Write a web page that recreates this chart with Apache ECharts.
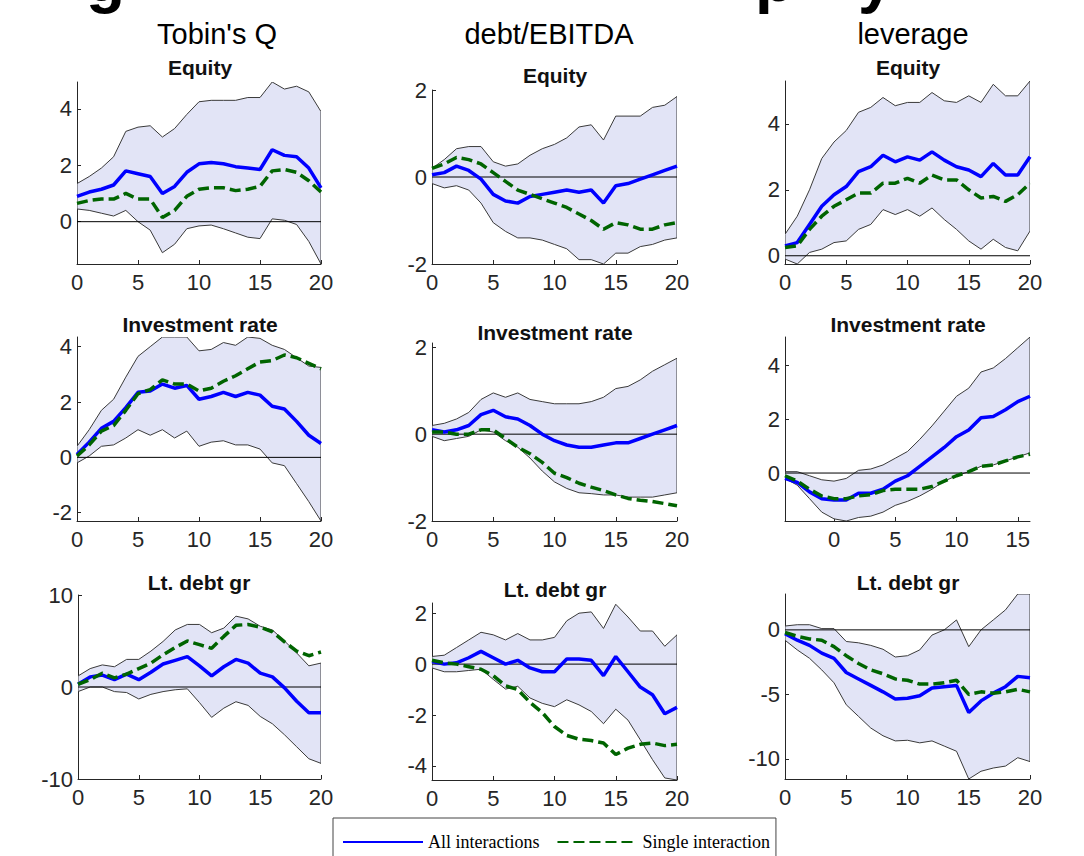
<!DOCTYPE html>
<html><head><meta charset="utf-8">
<script src="https://cdn.jsdelivr.net/npm/echarts@6/dist/echarts.min.js"></script>
<style>html,body{margin:0;padding:0;background:#fff}#c{width:1084px;height:856px}</style>
</head><body><div id="c"></div>
<script>
// horizons
const H = [0,1,2,3,4,5,6,7,8,9,10,11,12,13,14,15,16,17,18,19,20];
const H_SHIFT = [-4,-3,-2,-1,0,1,2,3,4,5,6,7,8,9,10,11,12,13,14,15,16];
const xTicks = [0,5,10,15,20];
const xTicksShift = [0,5,10,15];

// Tobin's Q - Equity
const tqEqUp = [1.35,1.6,1.9,2.3,3.2,3.35,3.4,3.0,3.3,3.8,4.25,4.3,4.3,4.3,4.4,4.4,4.95,4.7,4.8,4.6,3.9];
const tqEqLo = [0.45,0.4,0.3,0.2,0.4,0.0,-0.3,-1.1,-0.8,-0.25,-0.15,-0.12,-0.25,-0.4,-0.55,-0.6,0.1,0.05,-0.1,-0.7,-1.5];
const tqEqAll = [0.9,1.05,1.15,1.3,1.8,1.7,1.6,1.0,1.25,1.75,2.05,2.1,2.05,1.95,1.9,1.85,2.55,2.35,2.3,1.9,1.2];
const tqEqSingle = [0.65,0.75,0.8,0.8,1.0,0.8,0.8,0.15,0.4,0.9,1.15,1.2,1.2,1.1,1.15,1.25,1.8,1.85,1.75,1.45,1.05];
const tqEqYTicks = [0,2,4];

// debt/EBITDA - Equity
const deEqUp = [0.2,0.4,0.65,0.7,0.7,0.35,0.25,0.3,0.5,0.65,0.75,0.9,1.15,1.2,0.85,1.4,1.4,1.4,1.6,1.65,1.85];
const deEqLo = [-0.15,-0.25,-0.2,-0.3,-0.6,-1.05,-1.25,-1.4,-1.4,-1.45,-1.55,-1.65,-1.9,-1.9,-2.0,-1.75,-1.75,-1.6,-1.55,-1.45,-1.4];
const deEqAll = [0.05,0.1,0.25,0.15,-0.05,-0.4,-0.55,-0.6,-0.45,-0.4,-0.35,-0.3,-0.35,-0.3,-0.6,-0.2,-0.15,-0.05,0.05,0.15,0.25];
const deEqSingle = [0.2,0.3,0.45,0.4,0.3,0.1,-0.1,-0.3,-0.4,-0.5,-0.6,-0.7,-0.85,-1.0,-1.2,-1.05,-1.1,-1.2,-1.2,-1.1,-1.05];
const deEqYTicks = [-2,0,2];

// leverage - Equity
const lvEqUp = [0.65,1.2,2.0,2.95,3.45,3.8,4.35,4.5,4.8,4.55,4.65,4.65,4.95,4.7,4.65,4.85,4.65,5.2,4.85,4.85,5.3];
const lvEqLo = [-0.1,-0.25,0.1,0.2,0.4,0.45,0.8,0.95,1.4,1.25,1.4,1.2,1.45,1.1,0.8,0.45,0.2,0.5,0.25,0.15,0.75];
const lvEqAll = [0.3,0.4,0.95,1.5,1.85,2.1,2.55,2.7,3.05,2.85,3.0,2.9,3.15,2.9,2.7,2.6,2.4,2.8,2.45,2.45,3.0];
const lvEqSingle = [0.25,0.3,0.8,1.2,1.5,1.7,1.9,1.9,2.2,2.2,2.35,2.2,2.45,2.3,2.3,2.0,1.75,1.8,1.65,1.85,2.2];
const lvEqYTicks = [0,2,4];

// Tobin's Q - Investment rate
const tqInvUp = [0.4,1.0,1.7,2.1,2.9,3.65,4.0,4.35,4.35,4.35,3.85,3.9,4.15,4.05,4.35,4.3,4.05,3.9,3.6,3.3,3.25];
const tqInvLo = [-0.2,0.05,0.4,0.45,0.7,1.0,0.8,1.0,0.7,0.95,0.4,0.55,0.6,0.45,0.45,0.3,-0.2,-0.3,-0.95,-1.6,-2.3];
const tqInvAll = [0.1,0.55,1.05,1.3,1.8,2.35,2.4,2.65,2.5,2.6,2.1,2.2,2.35,2.2,2.35,2.25,1.85,1.75,1.3,0.8,0.5];
const tqInvSingle = [0.05,0.45,0.95,1.15,1.7,2.3,2.45,2.8,2.65,2.65,2.4,2.5,2.75,2.95,3.2,3.45,3.5,3.7,3.6,3.4,3.2];
const tqInvYTicks = [-2,0,2,4];

// debt/EBITDA - Investment rate
const deInvUp = [0.2,0.25,0.35,0.5,0.8,0.95,0.85,0.95,0.8,0.75,0.7,0.7,0.7,0.75,0.85,1.05,1.1,1.25,1.45,1.6,1.75];
const deInvLo = [-0.05,-0.15,-0.1,-0.05,0.1,0.05,-0.15,-0.3,-0.55,-0.85,-1.1,-1.25,-1.35,-1.37,-1.4,-1.4,-1.45,-1.45,-1.45,-1.4,-1.35];
const deInvAll = [0.1,0.05,0.1,0.2,0.45,0.55,0.4,0.35,0.2,0.0,-0.15,-0.25,-0.3,-0.3,-0.25,-0.2,-0.2,-0.1,0.0,0.1,0.2];
const deInvSingle = [0.05,0.05,0.0,0.0,0.1,0.1,-0.1,-0.3,-0.45,-0.65,-0.9,-1.0,-1.13,-1.22,-1.3,-1.4,-1.48,-1.52,-1.55,-1.6,-1.65];
const deInvYTicks = [-2,0,2];

// leverage - Investment rate (horizon shifted)
const lvInvUp = [0.05,0.05,-0.1,-0.25,-0.3,-0.2,0.1,0.15,0.3,0.55,0.8,1.25,1.75,2.3,2.85,3.15,3.75,3.9,4.25,4.65,5.05];
const lvInvLo = [-0.2,-0.45,-0.95,-1.45,-1.7,-1.78,-1.65,-1.6,-1.45,-1.2,-1.05,-0.85,-0.6,-0.3,-0.1,0.05,0.25,0.3,0.45,0.6,0.75];
const lvInvAll = [-0.2,-0.35,-0.7,-0.95,-1.0,-1.0,-0.75,-0.75,-0.6,-0.3,-0.1,0.25,0.6,0.95,1.35,1.6,2.05,2.1,2.35,2.65,2.85];
const lvInvSingle = [-0.1,-0.3,-0.6,-0.85,-0.95,-0.95,-0.85,-0.8,-0.65,-0.6,-0.6,-0.6,-0.5,-0.3,-0.1,0.05,0.25,0.3,0.45,0.6,0.7];
const lvInvYTicks = [0,2,4];

// Tobin's Q - Lt. debt gr
const tqDebtUp = [1.2,2.0,2.4,2.2,3.0,3.0,3.9,4.95,6.2,6.8,6.8,5.9,6.4,7.7,7.4,6.6,6.2,5.0,3.7,2.3,2.6];
const tqDebtLo = [-0.5,0.0,0.0,-0.5,-0.6,-1.3,-0.8,-0.5,-0.3,-0.2,-1.7,-3.3,-2.3,-1.6,-2.0,-3.2,-4.0,-5.2,-6.5,-7.8,-8.3];
const tqDebtAll = [0.3,1.1,1.3,0.8,1.4,0.8,1.6,2.5,2.9,3.3,2.3,1.2,2.2,3.0,2.6,1.5,1.1,-0.1,-1.55,-2.8,-2.8];
const tqDebtSingle = [0.3,0.8,1.5,1.0,1.4,2.0,2.6,3.5,4.3,5.0,4.6,4.2,5.5,6.7,6.8,6.5,6.0,4.9,3.9,3.4,3.8];
const tqDebtYTicks = [-10,0,10];

// debt/EBITDA - Lt. debt gr
const deDebtUp = [0.3,0.35,0.65,0.95,1.25,1.15,0.95,1.2,0.95,0.95,1.05,1.7,2.0,2.05,1.4,2.35,1.85,1.3,1.3,0.7,1.15];
const deDebtLo = [-0.15,-0.3,-0.3,-0.25,-0.2,-0.6,-0.98,-0.87,-1.33,-1.54,-1.67,-1.4,-1.6,-1.86,-2.34,-1.77,-2.2,-2.97,-3.75,-4.47,-4.55];
const deDebtAll = [0.1,0.0,0.05,0.25,0.5,0.25,0.0,0.15,-0.15,-0.3,-0.3,0.2,0.2,0.15,-0.45,0.3,-0.3,-0.9,-1.2,-1.95,-1.7];
const deDebtSingle = [0.15,0.05,0.0,-0.1,-0.2,-0.45,-0.85,-1.0,-1.5,-1.9,-2.45,-2.8,-2.95,-3.0,-3.1,-3.55,-3.3,-3.15,-3.1,-3.2,-3.15];
const deDebtYTicks = [-4,-2,0,2];

// leverage - Lt. debt gr
const lvDebtUp = [0.3,0.4,0.4,0.1,0.1,-0.9,-1.0,-1.2,-1.5,-2.1,-2.0,-1.55,-0.4,0.0,0.77,-1.3,0.0,0.77,1.55,2.78,2.78];
const lvDebtLo = [-0.8,-1.55,-2.2,-3.1,-4.1,-5.8,-6.7,-7.6,-8.2,-8.6,-8.55,-8.75,-8.6,-9.0,-9.4,-11.55,-10.95,-10.7,-10.55,-9.9,-10.2];
const lvDebtAll = [-0.3,-0.8,-1.2,-1.8,-2.2,-3.3,-3.8,-4.3,-4.8,-5.35,-5.3,-5.1,-4.5,-4.4,-4.3,-6.4,-5.5,-4.9,-4.4,-3.6,-3.7];
const lvDebtSingle = [-0.2,-0.5,-0.7,-0.8,-1.3,-2.0,-2.6,-3.1,-3.4,-3.8,-3.9,-4.2,-4.2,-4.1,-3.9,-5.0,-4.8,-4.9,-4.8,-4.6,-4.8];
const lvDebtYTicks = [-10,-5,0];

const columnTitles = ["Tobin's Q", 'debt/EBITDA', 'leverage'];
const panelTitles = ['Equity', 'Investment rate', 'Lt. debt gr'];
const seriesNames = ['All interactions', 'Single interaction'];

// layout table
const panels = [
  {x:H, up:tqEqUp, lo:tqEqLo, all:tqEqAll, single:tqEqSingle, yt:tqEqYTicks, xt:xTicks, ymin:-1.5, ymax:4.95, row:0, g:{left:77,top:82,width:244,height:182}, tx:200, ty:67},
  {x:H, up:deEqUp, lo:deEqLo, all:deEqAll, single:deEqSingle, yt:deEqYTicks, xt:xTicks, ymin:-2, ymax:2, row:0, g:{left:432,top:90,width:245,height:174}, tx:555, ty:75},
  {x:H, up:lvEqUp, lo:lvEqLo, all:lvEqAll, single:lvEqSingle, yt:lvEqYTicks, xt:xTicks, ymin:-0.25, ymax:5.3, row:0, g:{left:785,top:81,width:245,height:183}, tx:908, ty:67},
  {x:H, up:tqInvUp, lo:tqInvLo, all:tqInvAll, single:tqInvSingle, yt:tqInvYTicks, xt:xTicks, ymin:-2.3, ymax:4.35, row:1, g:{left:77,top:337,width:244,height:184}, tx:200, ty:324},
  {x:H, up:deInvUp, lo:deInvLo, all:deInvAll, single:deInvSingle, yt:deInvYTicks, xt:xTicks, ymin:-2, ymax:2.1, row:1, g:{left:432,top:343,width:245,height:178}, tx:555, ty:332},
  {x:H_SHIFT, up:lvInvUp, lo:lvInvLo, all:lvInvAll, single:lvInvSingle, yt:lvInvYTicks, xt:xTicksShift, ymin:-1.78, ymax:5.05, row:1, g:{left:785,top:337,width:245,height:184}, tx:908, ty:324},
  {x:H, up:tqDebtUp, lo:tqDebtLo, all:tqDebtAll, single:tqDebtSingle, yt:tqDebtYTicks, xt:xTicks, ymin:-10, ymax:10, row:2, g:{left:78,top:595,width:243,height:184}, tx:199, ty:582},
  {x:H, up:deDebtUp, lo:deDebtLo, all:deDebtAll, single:deDebtSingle, yt:deDebtYTicks, xt:xTicks, ymin:-4.55, ymax:2.4, row:2, g:{left:432,top:603,width:245,height:177}, tx:555, ty:589},
  {x:H_SHIFT.length ? H : H, up:lvDebtUp, lo:lvDebtLo, all:lvDebtAll, single:lvDebtSingle, yt:lvDebtYTicks, xt:xTicks, ymin:-11.55, ymax:2.78, row:2, g:{left:785,top:594,width:245,height:185}, tx:908, ty:582}
];

const AX = '#262626';
const FONT = "'Liberation Sans', Arial, Helvetica, sans-serif";

const grids = [], xAxes = [], yAxes = [], series = [], graphics = [];

panels.forEach(function (p, i) {
  grids.push(Object.assign({}, p.g));
  const last = p.x.length - 1;
  xAxes.push({
    gridIndex: i, type: 'value', min: p.x[0], max: p.x[last],
    axisLine: {show: true, onZero: false, lineStyle: {color: AX, width: 1}},
    axisTick: {show: true, inside: true, length: 4, customValues: p.xt, lineStyle: {color: AX}},
    axisLabel: {show: true, customValues: p.xt, fontSize: 22, color: AX, margin: 7, fontFamily: FONT},
    splitLine: {show: false}
  });
  yAxes.push({
    gridIndex: i, type: 'value', min: p.ymin, max: p.ymax,
    axisLine: {show: true, onZero: false, lineStyle: {color: AX, width: 1}},
    axisTick: {show: true, inside: true, length: 4, customValues: p.yt, lineStyle: {color: AX}},
    axisLabel: {show: true, customValues: p.yt, fontSize: 22, color: AX, margin: 5, fontFamily: FONT},
    splitLine: {show: false}
  });
  // confidence band
  series.push({
    type: 'custom', xAxisIndex: i, yAxisIndex: i, z: 1, silent: true, clip: true,
    data: [[p.x[0], p.lo[0]]],
    renderItem: function (params, api) {
      const pts = [];
      for (let k = 0; k < p.x.length; k++) pts.push(api.coord([p.x[k], p.up[k]]));
      for (let k = p.x.length - 1; k >= 0; k--) pts.push(api.coord([p.x[k], p.lo[k]]));
      return {type: 'polygon', shape: {points: pts},
        style: {fill: '#e2e4f6', stroke: '#3a3a3a', lineWidth: 1}};
    }
  });
  // zero reference line
  series.push({
    type: 'line', xAxisIndex: i, yAxisIndex: i, z: 2, silent: true, symbol: 'none',
    data: [[p.x[0], 0], [p.x[last], 0]],
    lineStyle: {color: '#000', width: 1}, animation: false
  });
  series.push({
    name: seriesNames[0], type: 'line', xAxisIndex: i, yAxisIndex: i, z: 3,
    symbol: 'none', showSymbol: false, silent: true,
    data: p.x.map(function (x, k) { return [x, p.all[k]]; }),
    itemStyle: {color: '#0000ff'},
    lineStyle: {color: '#0000ff', width: 3.5}
  });
  series.push({
    name: seriesNames[1], type: 'line', xAxisIndex: i, yAxisIndex: i, z: 4,
    symbol: 'none', showSymbol: false, silent: true,
    data: p.x.map(function (x, k) { return [x, p.single[k]]; }),
    itemStyle: {color: '#006400'},
    lineStyle: {color: '#006400', width: 3.5, type: [11, 5]}
  });
  graphics.push({type: 'text', x: p.tx, y: p.ty, silent: true,
    style: {text: panelTitles[p.row], font: "bold 21px " + FONT, fill: '#111', align: 'center', verticalAlign: 'middle'}});
});

[217, 549, 913].forEach(function (cx, j) {
  graphics.push({type: 'text', x: cx, y: 34, silent: true,
    style: {text: columnTitles[j], font: "29px " + FONT, fill: '#000', align: 'center', verticalAlign: 'middle'}});
});
// fragments of the cropped slide heading
graphics.push({type: 'text', x: 86, y: -21, silent: true, style: {text: 'g', font: "bold 64px " + FONT, fill: '#000', align: 'left', verticalAlign: 'middle'}});
graphics.push({type: 'text', x: 755, y: -21, silent: true, style: {text: 'p', font: "bold 64px " + FONT, fill: '#000', align: 'left', verticalAlign: 'middle'}});
graphics.push({type: 'text', x: 858, y: -21, silent: true, style: {text: 'y', font: "bold 64px " + FONT, fill: '#000', align: 'left', verticalAlign: 'middle'}});

const chart = echarts.init(document.getElementById('c'), null, {renderer: 'svg', width: 1084, height: 856});
chart.setOption({
  animation: false,
  backgroundColor: '#fff',
  grid: grids, xAxis: xAxes, yAxis: yAxes, series: series, graphic: graphics,
  legend: {
    show: true, data: seriesNames, left: 333, top: 818, orient: 'horizontal',
    itemWidth: 80, itemHeight: 14, itemGap: 17, padding: [15, 6, 15, 9],
    borderColor: '#444', borderWidth: 1, backgroundColor: '#fff',
    itemStyle: {color: 'rgba(0,0,0,0)', borderWidth: 0, opacity: 0},
    textStyle: {fontFamily: "'Liberation Serif', 'Times New Roman', serif", fontSize: 18, color: '#000'},
    selectedMode: false
  }
});
</script></body></html>
